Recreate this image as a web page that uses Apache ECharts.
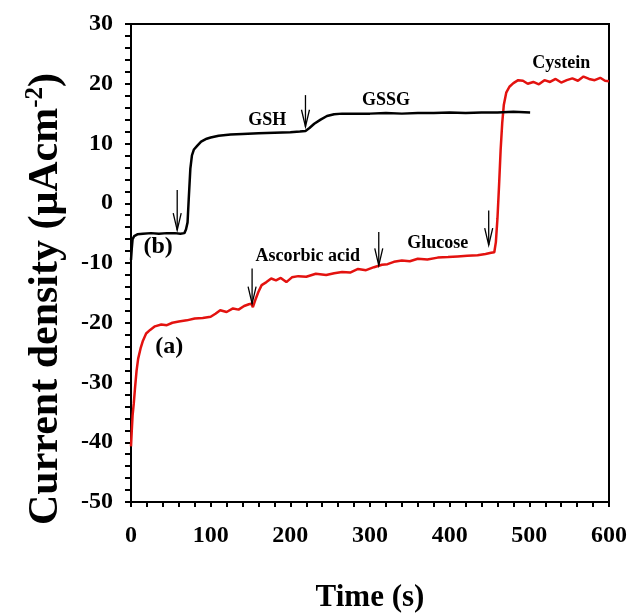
<!DOCTYPE html>
<html>
<head>
<meta charset="utf-8">
<script src="https://cdn.jsdelivr.net/npm/echarts@6/dist/echarts.min.js"></script>
<style>
  html, body { margin: 0; padding: 0; background: #fff; }
  #main { width: 635px; height: 613px; }
</style>
</head>
<body>
<div id="main"></div>
<script>
// curve (b): GSH -> GSSG
const timeB = [0, 1, 2, 4, 8, 15, 25, 35, 45, 55, 62, 67, 69, 71, 72.5, 74.5, 76.5, 79, 83, 88,
  95, 100, 110, 125, 140, 160, 180, 200, 212, 219, 224, 230, 238, 246, 255, 265, 280, 300, 320, 340,
  360, 380, 400, 420, 440, 460, 480, 501]
const currentB = [-9.5, -7.5, -6.0, -5.5, -5.2, -5.1, -5.0, -5.1, -5.0, -5.0, -5.1, -5.0, -4.4, -3.2, 0.8, 5.8, 8.0, 9.0, 9.6, 10.3,
  10.8, 11.0, 11.3, 11.5, 11.6, 11.7, 11.8, 11.9, 12.0, 12.1, 12.6, 13.3, 14.0, 14.6, 14.9, 15.0, 15.0, 15.0, 15.1, 15.0,
  15.1, 15.1, 15.2, 15.1, 15.2, 15.2, 15.3, 15.2]

// curve (a): ascorbic acid, glucose, cystein
const timeA = [0, 1, 2, 3.5, 5, 7, 9, 12, 15, 19, 24, 30, 38, 45, 52, 60, 70, 80, 90, 100,
  106, 112, 120, 128, 135, 142, 148, 151, 153, 156, 160, 164, 170, 176, 182, 188, 195, 202, 210, 220,
  232, 245, 255, 265, 275, 285, 295, 305, 310, 315, 322, 330, 340, 350, 360, 372, 385, 398, 410, 422,
  435, 445, 452, 456, 458, 460, 462, 464, 466, 468, 471, 475, 480, 486, 492, 498, 505, 512, 519, 526,
  533, 540, 547, 554, 561, 568, 575, 582, 589, 595, 600]
const currentA = [-40.7, -38, -35.5, -33.5, -31, -28, -26, -24.3, -23.0, -21.8, -21.2, -20.6, -20.3, -20.4, -20.0, -19.8, -19.6, -19.3, -19.2, -19.0,
  -18.5, -17.9, -18.2, -17.6, -17.8, -17.2, -16.9, -16.8, -17.4, -16.2, -14.8, -13.7, -13.2, -12.6, -12.9, -12.5, -13.2, -12.4, -12.2, -12.3,
  -11.8, -12.0, -11.7, -11.5, -11.6, -11.0, -11.2, -10.7, -10.5, -10.3, -10.2, -9.8, -9.6, -9.7, -9.3, -9.4, -9.1, -9.0, -8.9, -8.8,
  -8.7, -8.5, -8.3, -8.2, -6.5, -2.5, 3.0, 9.0, 13.5, 16.5, 18.5, 19.5, 20.1, 20.6, 20.5, 20.0, 20.3, 19.9, 20.6, 20.3,
  20.8, 20.2, 20.6, 20.9, 20.5, 21.2, 20.8, 20.6, 21.0, 20.5, 20.4]

// injection arrows (time, top of arrow, tip)
const arrowTime = [58, 219, 152, 311, 449]
const arrowTop = [2.2, 18.1, -10.9, -4.8, -1.2]
const arrowTip = [-4.5, 12.8, -16.8, -10.4, -7.0]

// annotations
const noteText = ['GSH', 'GSSG', 'Cystein', 'Glucose', 'Ascorbic acid', '(b)', '(a)']
const noteTime = [171, 320, 540, 385, 222, 34, 48]
const noteValue = [13.9, 17.2, 23.4, -6.7, -8.9, -7.3, -24]
const noteBig = [false, false, false, false, false, true, true]

const xTicks = [0, 600, 100]
const yTicks = [-50, 30, 10]

const font = 'Liberation Serif'
const pair = (xs, ys) => xs.map((x, i) => [x, ys[i]])

const chart = echarts.init(document.getElementById('main'))
chart.setOption({
  animation: false,
  grid: {
    left: 131, right: 26, top: 24, bottom: 111,
    show: true, borderColor: '#000', borderWidth: 2,
    outerBoundsMode: 'none'
  },
  xAxis: {
    type: 'value',
    min: xTicks[0], max: xTicks[1], interval: xTicks[2],
    name: 'Time (s)',
    nameLocation: 'middle',
    nameGap: 80,
    nameTextStyle: { fontFamily: font, fontWeight: 'bold', fontSize: 31, color: '#000' },
    axisLine: { onZero: false, lineStyle: { color: '#000', width: 2 } },
    axisTick: { length: 5, lineStyle: { color: '#000', width: 2 } },
    minorTick: { show: true, splitNumber: 5, length: 5, lineStyle: { color: '#000', width: 2 } },
    splitLine: { show: false },
    axisLabel: { margin: 22, fontFamily: font, fontWeight: 'bold', fontSize: 24, color: '#000' }
  },
  yAxis: {
    type: 'value',
    min: yTicks[0], max: yTicks[1], interval: yTicks[2],
    name: '{t|Current density (μAcm}{s|-2}{t|)}',
    nameLocation: 'middle',
    nameRotate: 90,
    nameGap: 62,
    nameTextStyle: {
      padding: [0, 72, 0, 0],
      rich: {
        t: { fontFamily: font, fontWeight: 'bold', fontSize: 42, color: '#000' },
        s: { fontFamily: font, fontWeight: 'bold', fontSize: 25, color: '#000', padding: [0, 0, 21, 0] }
      }
    },
    axisLine: { onZero: false, lineStyle: { color: '#000', width: 2 } },
    axisTick: { length: 6, lineStyle: { color: '#000', width: 2 } },
    minorTick: { show: true, splitNumber: 5, length: 6, lineStyle: { color: '#000', width: 2 } },
    splitLine: { show: false },
    axisLabel: { margin: 18, fontFamily: font, fontWeight: 'bold', fontSize: 24, color: '#000' }
  },
  series: [
    {
      type: 'line',
      data: pair(timeA, currentA),
      showSymbol: false,
      lineStyle: { color: '#e3120f', width: 2.5 },
      z: 3
    },
    {
      type: 'line',
      data: pair(timeB, currentB),
      showSymbol: false,
      lineStyle: { color: '#000', width: 2.5 },
      z: 4
    },
    {
      type: 'custom',
      data: arrowTime.map((t, i) => [t, arrowTop[i], arrowTip[i]]),
      renderItem: (params, api) => {
        const a = api.coord([api.value(0), api.value(1)])
        const b = api.coord([api.value(0), api.value(2)])
        const style = { stroke: '#000', lineWidth: 1.3, fill: null }
        return {
          type: 'group',
          children: [
            { type: 'line', shape: { x1: a[0], y1: a[1], x2: b[0], y2: b[1] }, style },
            { type: 'polyline', shape: { points: [[b[0] - 4, b[1] - 17], b, [b[0] + 4, b[1] - 17]] }, style }
          ]
        }
      },
      z: 5
    },
    {
      type: 'custom',
      data: noteTime.map((t, i) => [t, noteValue[i], i]),
      renderItem: (params, api) => {
        const i = api.value(2)
        const p = api.coord([api.value(0), api.value(1)])
        return {
          type: 'text',
          x: p[0], y: p[1],
          style: {
            text: noteText[i],
            fontFamily: font,
            fontWeight: 'bold',
            fontSize: noteBig[i] ? 24 : 18,
            fill: '#000',
            align: 'center',
            verticalAlign: 'middle'
          }
        }
      },
      z: 6
    }
  ]
})
</script>
</body>
</html>
